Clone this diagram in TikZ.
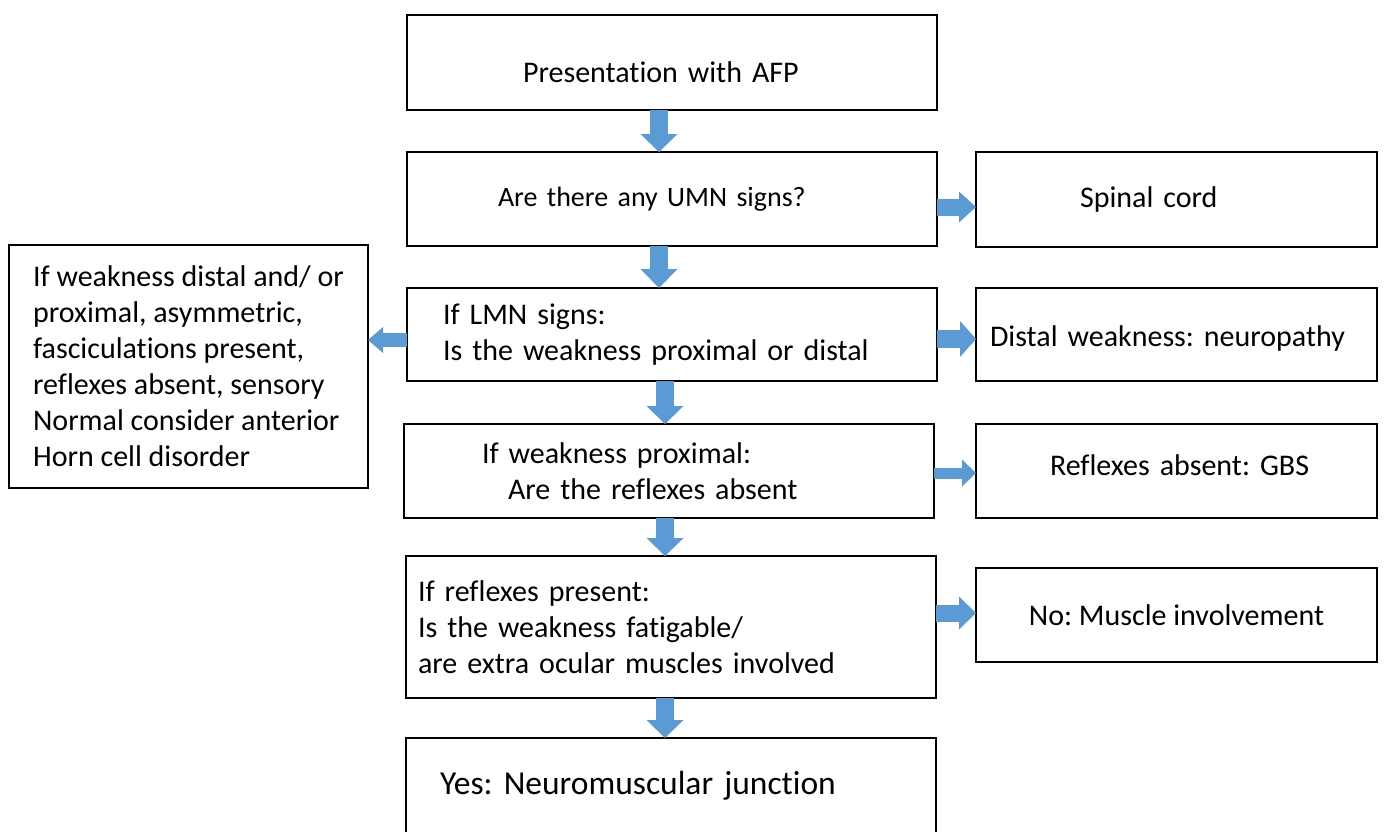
\documentclass[tikz,border=0pt]{standalone}
\usepackage{fontspec}
\setmainfont{Carlito}[Ligatures=NoCommon]
\usetikzlibrary{arrows.meta}
\definecolor{arrblue}{HTML}{5B9BD5}
\frenchspacing
\begin{document}
\begin{tikzpicture}[x=1pt,y=-1pt,
  box/.style={draw=black,line width=2.6pt,rectangle,outer sep=0pt,inner ysep=0pt,
    align=left,anchor=north west,font=\fontsize{30}{36}\selectfont\frenchspacing},
  barr/.style n args={3}{draw=arrblue,line width=#1,
    -{Triangle[length=#3,width=#2,line width=0pt]}}]
\clip (0,0) rectangle (1386,831);
\fill[white] (0,0) rectangle (1386,831);
% boxes
\node[box,minimum width=530pt,minimum height=95pt,inner xsep=116pt,text width=298pt] (A) at (407,15)
  {\raisebox{-10pt}[\height][\depth]{Presentation with AFP}};
\node[box,minimum width=530pt,minimum height=94pt,inner xsep=91pt,text width=348pt,
  font=\fontsize{28}{34}\selectfont\frenchspacing] (B) at (407,152)
  {Are there any UMN signs?};
\node[box,minimum width=401pt,minimum height=95pt,inner xsep=104pt,text width=193pt] (C) at (976,152)
  {Spinal cord};
\node[box,minimum width=530pt,minimum height=93pt,inner xsep=36pt,text width=458pt] (D) at (407,288)
  {If LMN signs:\\Is the weakness proximal or distal};
\node[box,minimum width=401pt,minimum height=93pt,inner xsep=14pt,text width=373pt] (E) at (976,288)
  {\raisebox{-4pt}[\height][\depth]{Distal weakness: neuropathy}};
\node[box,minimum width=359pt,minimum height=243pt,inner xsep=20pt] (F) at (9,245)
  {If weakness distal and/ or\\proximal, asymmetric,\\fasciculations present,\\reflexes absent, sensory\\Normal consider anterior\\Horn cell disorder};
\node[box,minimum width=530pt,minimum height=94pt,inner xsep=78pt,text width=374pt] (G) at (404,424)
  {If weakness proximal:\\\hspace*{26pt}Are the reflexes absent};
\node[box,minimum width=401pt,minimum height=94pt,inner xsep=74pt,text width=253pt] (H) at (976,424)
  {\raisebox{6pt}[\height][\depth]{Reflexes absent: GBS}};
\node[box,minimum width=530pt,minimum height=142pt,inner xsep=12pt,text width=506pt] (I) at (406,556)
  {If reflexes present:\\Is the weakness fatigable/\\are extra ocular muscles involved};
\node[box,minimum width=401pt,minimum height=94pt,inner xsep=20pt] (J) at (976,568)
  {No: Muscle involvement};
\node[box,minimum width=530pt,minimum height=96pt,inner xsep=34pt,text width=462pt,
  font=\fontsize{33.5}{40}\selectfont\frenchspacing] (K) at (406,738)
  {Yes: Neuromuscular junction};
% vertical arrows
\draw[barr={18pt}{37pt}{18pt}] ([xshift=-13pt]A.south) -- ([xshift=-13pt]A.south |- B.north);
\draw[barr={18pt}{37pt}{19pt}] ([xshift=-13pt]B.south) -- ([xshift=-13pt]B.south |- D.north);
\draw[barr={18pt}{37pt}{18pt}] ([xshift=-7pt]D.south) -- ([xshift=-7pt]D.south |- G.north);
\draw[barr={18pt}{37pt}{18pt}] ([xshift=-4pt]G.south) -- ([xshift=-4pt]G.south |- I.north);
\draw[barr={18pt}{37pt}{18pt}] ([xshift=-6pt]I.south) -- ([xshift=-6pt]I.south |- K.north);
% horizontal arrows
\draw[barr={17pt}{31pt}{17pt}] ([yshift=-8pt]B.east) -- ([yshift=-8pt]B.east -| C.west);
\draw[barr={18pt}{36pt}{16pt}] ([yshift=-4.5pt]D.east) -- ([yshift=-4.5pt]D.east -| E.west);
\draw[barr={14pt}{26pt}{15pt}] ([yshift=-5.5pt]D.west) -- ([yshift=-5.5pt]D.west -| F.east);
\draw[barr={11pt}{27pt}{14pt}] ([yshift=-2pt]G.east) -- ([yshift=-2pt]G.east -| H.west);
\draw[barr={17pt}{33pt}{17pt}] ([yshift=14pt]I.east) -- ([yshift=14pt]I.east -| J.west);
\end{tikzpicture}
\end{document}
